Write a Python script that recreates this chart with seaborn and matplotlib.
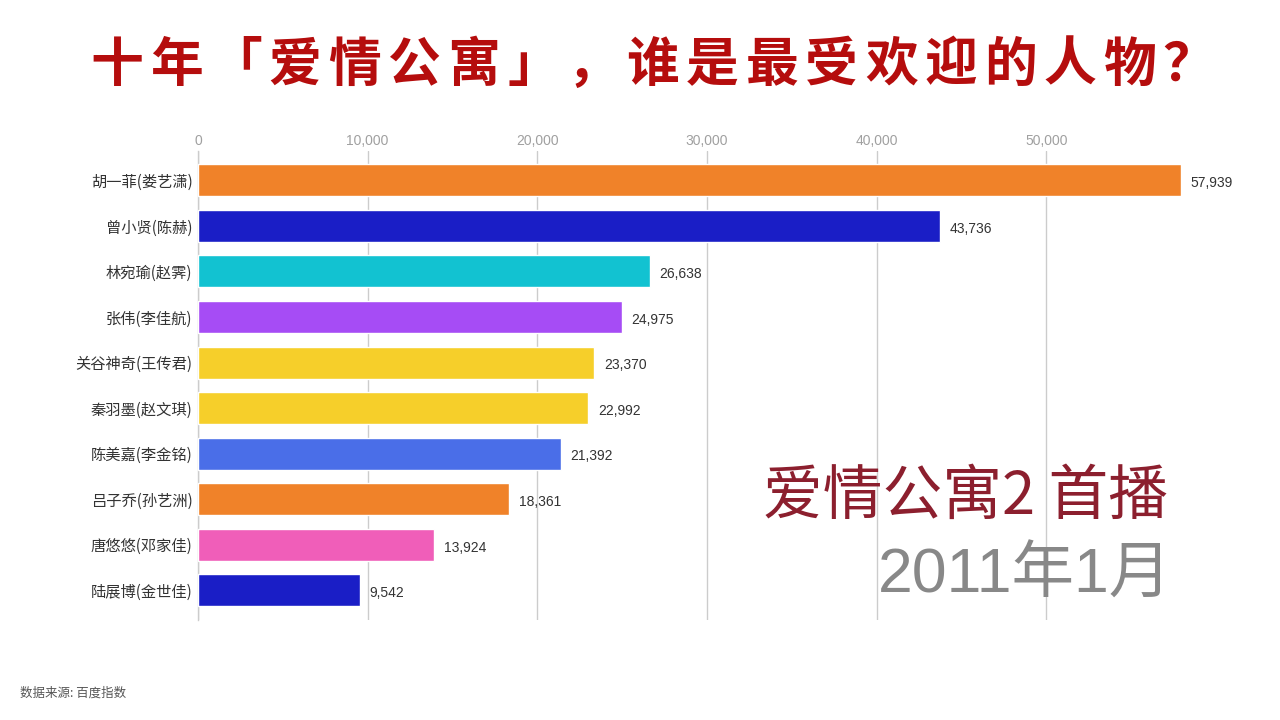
import matplotlib
matplotlib.use("Agg")
import matplotlib.pyplot as plt
import seaborn as sns
import pandas as pd

# --- data ---
names = ["胡一菲(娄艺潇)", "曾小贤(陈赫)", "林宛瑜(赵霁)", "张伟(李佳航)", "关谷神奇(王传君)",
         "秦羽墨(赵文琪)", "陈美嘉(李金铭)", "吕子乔(孙艺洲)", "唐悠悠(邓家佳)", "陆展博(金世佳)"]
values = [57939, 43736, 26638, 24975, 23370, 22992, 21392, 18361, 13924, 9542]
colors = ["#F08229", "#1A1EC6", "#12C2D1", "#A64CF5", "#F6CF2A",
          "#F6CF2A", "#4A6EE8", "#F08229", "#F05EB9", "#1A1EC6"]
ticks = [0, 10000, 20000, 30000, 40000, 50000]

title = "十年「爱情公寓」，谁是最受欢迎的人物？"
episode = "爱情公寓2 首播"
period = "2011年1月"
source = "数据来源: 百度指数"

sns.set_theme(style="white")
plt.rcParams["font.family"] = ["Noto Sans CJK SC", "DejaVu Sans"]

df = pd.DataFrame({"name": names, "value": values})

fig = plt.figure(figsize=(12.8, 7.2), dpi=100, facecolor="white")
ax = fig.add_axes([198 / 1280, 1 - 620 / 720, (57939 * 0.016965) / 1280, 469.3 / 720])

sns.barplot(data=df, x="value", y="name", hue="name", palette=colors,
            legend=False, width=0.7, ax=ax, orient="h", saturation=1, zorder=3)

ax.set_xlim(0, max(values))
ax.set_ylim(len(names) - 1 + 0.65, -0.65)
ax.set_xticks(ticks)
ax.set_xticklabels([f"{t:,}" for t in ticks], color="#A0A0A0", fontsize=10,
                   family=["Liberation Sans", "DejaVu Sans"])
ax.xaxis.tick_top()
ax.tick_params(axis="x", length=0, pad=2)
ax.tick_params(axis="y", length=0, pad=4, labelsize=11, labelcolor="#333333")
ax.set_xlabel("")
ax.set_ylabel("")
ax.grid(axis="x", color="#CCCCCC", linewidth=1, zorder=0)
for s in ["top", "right", "bottom"]:
    ax.spines[s].set_visible(False)
ax.spines["left"].set_color("#CCCCCC")
ax.spines["left"].set_linewidth(1)

# value labels
for i, v in enumerate(values):
    ax.annotate(f"{v:,}", (v, i), xytext=(7, -2), textcoords="offset points",
                va="center", ha="left", fontsize=10, color="#333333",
                family=["Liberation Sans", "DejaVu Sans"], annotation_clip=False)

# title, spaced out char by char
x0, pitch = 90 / 1280, 59.6 / 1280
for k, ch in enumerate(title):
    fig.text(x0 + k * pitch, 1 - 65 / 720, ch, fontsize=38, fontweight="bold",
             color="#B50D0D", ha="left", va="center")

fig.text(1168 / 1280, 1 - 497 / 720, episode, fontsize=43, color="#8C1F2E",
         ha="right", va="center")
fig.text(1172 / 1280, 1 - 576 / 720, period, fontsize=45, color="#888888",
         ha="right", va="center", family=["Liberation Sans", "Noto Sans CJK SC"])
fig.text(20 / 1280, 1 - 693 / 720, source, fontsize=9, color="#555555",
         ha="left", va="center")

fig.savefig("out.png", dpi=100, facecolor="white")
